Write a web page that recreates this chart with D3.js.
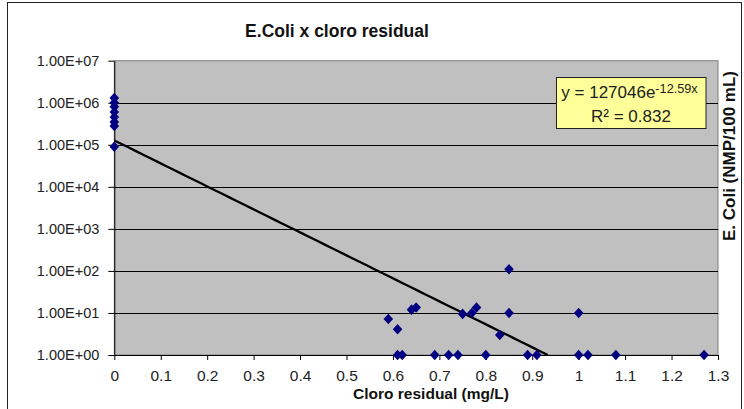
<!DOCTYPE html>
<html>
<head>
<meta charset="utf-8">
<script src="https://d3js.org/d3.v7.min.js"></script>
<style>
body { margin: 0; background: #fff; }
text { font-family: "Liberation Sans", Arial, sans-serif; }
</style>
</head>
<body>
<svg width="744" height="409"></svg>

<script>

// data
var xZero = [0, 0, 0, 0, 0, 0, 0, 0];
var yZero = [1.3e6, 1.0e6, 8.0e5, 6.0e5, 4.6e5, 3.5e5, 2.8e5, 9.0e4];

var xMid = [0.59, 0.61, 0.64, 0.65, 0.75, 0.77, 0.78, 0.83, 0.85, 0.85, 1.00];
var yMid = [7.2, 4.1, 12, 13.5, 9.5, 10, 13.5, 3, 110, 10, 10];

var xOne = [0.61, 0.62, 0.69, 0.72, 0.74, 0.80, 0.89, 0.91, 1.00, 1.02, 1.08, 1.27];
var yOne = [1, 1, 1, 1, 1, 1, 1, 1, 1, 1, 1, 1];

var xTicks = [0, 0.1, 0.2, 0.3, 0.4, 0.5, 0.6, 0.7, 0.8, 0.9, 1, 1.1, 1.2, 1.3];
var yTicks = [1, 1e1, 1e2, 1e3, 1e4, 1e5, 1e6, 1e7];
var yTickLabels = ["1.00E+00", "1.00E+01", "1.00E+02", "1.00E+03",
                   "1.00E+04", "1.00E+05", "1.00E+06", "1.00E+07"];

// exponential trend: y = a * exp(b * x)
var trendA = 127046, trendB = -12.59;

var points = d3.zip(xZero.concat(xMid, xOne), yZero.concat(yMid, yOne));

var svg = d3.select("svg");

var plotL = 114.3, plotR = 718, plotT = 60.7, plotB = 355;

var x = d3.scaleLinear().domain([0, 1.3]).range([plotL, plotR]);
var y = d3.scaleLog().domain([1, 1e7]).range([plotB, plotT]);

// outer chart frame
svg.append("rect")
    .attr("x", 7.5).attr("y", 2.5)
    .attr("width", 734).attr("height", 420)
    .attr("fill", "#fff")
    .attr("stroke", "#222");

// plot area
svg.append("rect")
    .attr("x", plotL).attr("y", plotT)
    .attr("width", plotR - plotL).attr("height", plotB - plotT)
    .attr("fill", "#c0c0c0")
    .attr("stroke", "#808080");

svg.append("g")
    .attr("stroke", "#000")
    .selectAll("line")
    .data(yTicks.slice(1, -1))
    .enter().append("line")
      .attr("x1", plotL).attr("x2", plotR)
      .attr("y1", function(d) { return Math.round(y(d)) + 0.5; })
      .attr("y2", function(d) { return Math.round(y(d)) + 0.5; });

// axes
var yAxis = d3.axisLeft(y)
    .tickValues(yTicks)
    .tickFormat(function(d, i) { return yTickLabels[i]; })
    .tickSize(6).tickPadding(9).tickSizeOuter(0);

var xAxis = d3.axisBottom(x)
    .tickValues(xTicks)
    .tickFormat(d3.format("~g"))
    .tickSize(5).tickPadding(10).tickSizeOuter(0);

svg.append("g")
    .attr("transform", "translate(" + plotL + ",0)")
    .call(yAxis)
    .call(function(g) {
      g.selectAll("text").attr("font-size", 14.5).attr("fill", "#222").attr("font-family", null);
      g.selectAll("line,path").attr("stroke", "#000");
    });

svg.append("g")
    .attr("transform", "translate(0," + plotB + ")")
    .call(xAxis)
    .call(function(g) {
      g.selectAll("text").attr("font-size", 15.5).attr("fill", "#222").attr("font-family", null);
      g.selectAll("line,path").attr("stroke", "#000");
    });

// trendline, from x = 0 to where it reaches 1
var xEnd = Math.log(1 / trendA) / trendB;
svg.append("path")
    .datum(d3.range(0, 61).map(function(i) { return xEnd * i / 60; }))
    .attr("fill", "none")
    .attr("stroke", "#000")
    .attr("stroke-width", 2.3)
    .attr("d", d3.line()
      .x(function(d) { return x(d); })
      .y(function(d) { return y(trendA * Math.exp(trendB * d)); }));

// markers
svg.append("g")
    .attr("fill", "#000080")
    .selectAll("path")
    .data(points)
    .enter().append("path")
      .attr("transform", function(d) {
        return "translate(" + x(d[0]) + "," + y(d[1]) + ") scale(1,1.1) rotate(45)";
      })
      .attr("d", d3.symbol(d3.symbolSquare, 46));

// equation label
svg.append("rect")
    .attr("x", 556.5).attr("y", 77.5)
    .attr("width", 149.5).attr("height", 51)
    .attr("fill", "#ffff99")
    .attr("stroke", "#222");

var eq = svg.append("text")
    .attr("x", 629.5).attr("y", 98.3)
    .attr("text-anchor", "middle")
    .attr("font-size", 17)
    .attr("fill", "#222");
eq.append("tspan").text("y = " + trendA + "e");
eq.append("tspan").attr("font-size", 12.7).attr("dy", -5).text(trendB + "x");

svg.append("text")
    .attr("x", 631).attr("y", 121.7)
    .attr("text-anchor", "middle")
    .attr("font-size", 17)
    .attr("fill", "#222")
    .text("R\u00b2 = 0.832");

// titles
svg.append("text")
    .attr("x", 337).attr("y", 37)
    .attr("text-anchor", "middle")
    .attr("font-size", 17.5)
    .attr("font-weight", "bold")
    .attr("fill", "#111")
    .text("E.Coli x cloro residual");

svg.append("text")
    .attr("x", 431).attr("y", 399)
    .attr("text-anchor", "middle")
    .attr("font-size", 15.5)
    .attr("font-weight", "bold")
    .attr("fill", "#111")
    .text("Cloro residual (mg/L)");

svg.append("text")
    .attr("transform", "translate(735,156) rotate(-90)")
    .attr("text-anchor", "middle")
    .attr("font-size", 17)
    .attr("font-weight", "bold")
    .attr("fill", "#111")
    .text("E. Coli (NMP/100 mL)");

</script>
</body>
</html>
